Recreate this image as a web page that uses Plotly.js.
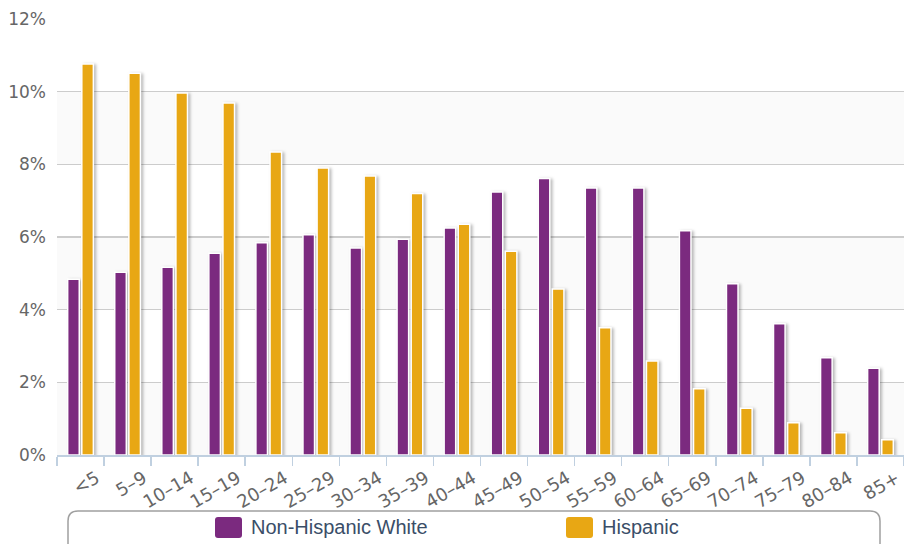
<!DOCTYPE html>
<html>
<head>
<meta charset="utf-8">
<script src="https://cdn.plot.ly/plotly-3.0.1.min.js"></script>
<style>
html,body{margin:0;padding:0;background:#fff;}
#chart{width:904px;height:544px;}
.barlayer .point path{filter:drop-shadow(2px 1px 1.5px rgba(0,0,0,0.28));}
</style>
</head>
<body>
<div id="chart"></div>
<script>
const categories = ["<5","5–9","10–14","15–19","20–24","25–29","30–34","35–39","40–44","45–49","50–54","55–59","60–64","65–69","70–74","75–79","80–84","85+"];
const nonHispanicWhite = [4.84,5.03,5.17,5.55,5.84,6.06,5.70,5.94,6.25,7.24,7.61,7.35,7.35,6.17,4.71,3.61,2.68,2.39];
const hispanic = [10.76,10.51,9.96,9.69,8.34,7.90,7.68,7.20,6.35,5.61,4.57,3.50,2.59,1.82,1.29,0.89,0.61,0.42];
const yTicks = [0,2,4,6,8,10,12];
const yTickLabels = ["0%","2%","4%","6%","8%","10%","12%"];
const seriesNames = ["Non-Hispanic White","Hispanic"];
const seriesColors = ["#7b2a7f","#e8a714"];

const traces = [
  {type:"bar", name:seriesNames[0], x:categories, y:nonHispanicWhite,
   marker:{color:seriesColors[0], line:{color:"#ffffff", width:1.5}}, hoverinfo:"x+y"},
  {type:"bar", name:seriesNames[1], x:categories, y:hispanic,
   marker:{color:seriesColors[1], line:{color:"#ffffff", width:1.5}}, hoverinfo:"x+y"}
];

// pixel -> paper helpers (plot area: x 57..904, y 19..455)
const L = 57, T = 19, W = 847, H = 436;
const PX = p => (p - L) / W;
const PY = p => (T + H - p) / H;

function roundRect(x0, y0, x1, y1, r) {
  const a = PX(x0), b = PX(x1), c = PY(y0), d = PY(y1);
  const rx = r / W, ry = r / H;
  return `M ${a+rx},${c} L ${b-rx},${c} Q ${b},${c} ${b},${c-ry} L ${b},${d+ry} Q ${b},${d} ${b-rx},${d} ` +
         `L ${a+rx},${d} Q ${a},${d} ${a},${d+ry} L ${a},${c-ry} Q ${a},${c} ${a+rx},${c} Z`;
}

const shapes = [];
for (let i = 0; i < yTicks.length - 1; i += 2) {
  shapes.push({type:"rect", xref:"paper", yref:"y", x0:0, x1:1, y0:yTicks[i], y1:yTicks[i+1],
    fillcolor:"#fafafa", line:{width:0}, layer:"below"});
}
// legend frame
shapes.push({type:"path", xref:"paper", yref:"paper", path:roundRect(68, 511, 880, 575, 10),
  line:{color:"#a0a0a0", width:1.5}, fillcolor:"rgba(0,0,0,0)", layer:"above"});

// legend entries
const legendSymbolX = [215, 566];
const annotations = [];
seriesNames.forEach((name, i) => {
  const sx = legendSymbolX[i];
  shapes.push({type:"path", xref:"paper", yref:"paper", path:roundRect(sx, 517, sx + 27, 538, 3),
    line:{width:0}, fillcolor:seriesColors[i], layer:"above"});
  annotations.push({xref:"paper", yref:"paper", x:PX(sx + 34), y:PY(527), xanchor:"left", yanchor:"middle",
    text:name, showarrow:false,
    font:{family:"Liberation Sans, Arial, sans-serif", size:20, color:"#3a4e68"}});
});

const layout = {
  width:904, height:544,
  margin:{l:57, r:0, t:19, b:89, autoexpand:false},
  paper_bgcolor:"#ffffff", plot_bgcolor:"#ffffff",
  barmode:"group", bargap:0.40, bargroupgap:0.18,
  showlegend:false,
  xaxis:{type:"category", tickangle:-30, tickson:"boundaries", ticks:"outside", ticklen:9,
    tickcolor:"#c0d0e0", tickwidth:1.5, showline:true, linecolor:"#c0d0e0", linewidth:2,
    showgrid:false, zeroline:false, automargin:false, ticklabelshift:16, ticklabelstandoff:4,
    tickfont:{family:"DejaVu Sans, sans-serif", size:18, color:"#666666"}},
  yaxis:{range:[0,12], tickvals:yTicks, ticktext:yTickLabels, showgrid:true,
    gridcolor:"#cccccc", gridwidth:1.5, zeroline:false, showline:false, ticks:"",
    ticklabelstandoff:10, automargin:false,
    tickfont:{family:"DejaVu Sans, sans-serif", size:17, color:"#666666"}},
  shapes:shapes,
  annotations:annotations
};

Plotly.newPlot("chart", traces, layout, {displayModeBar:false, staticPlot:true});
</script>
</body>
</html>
